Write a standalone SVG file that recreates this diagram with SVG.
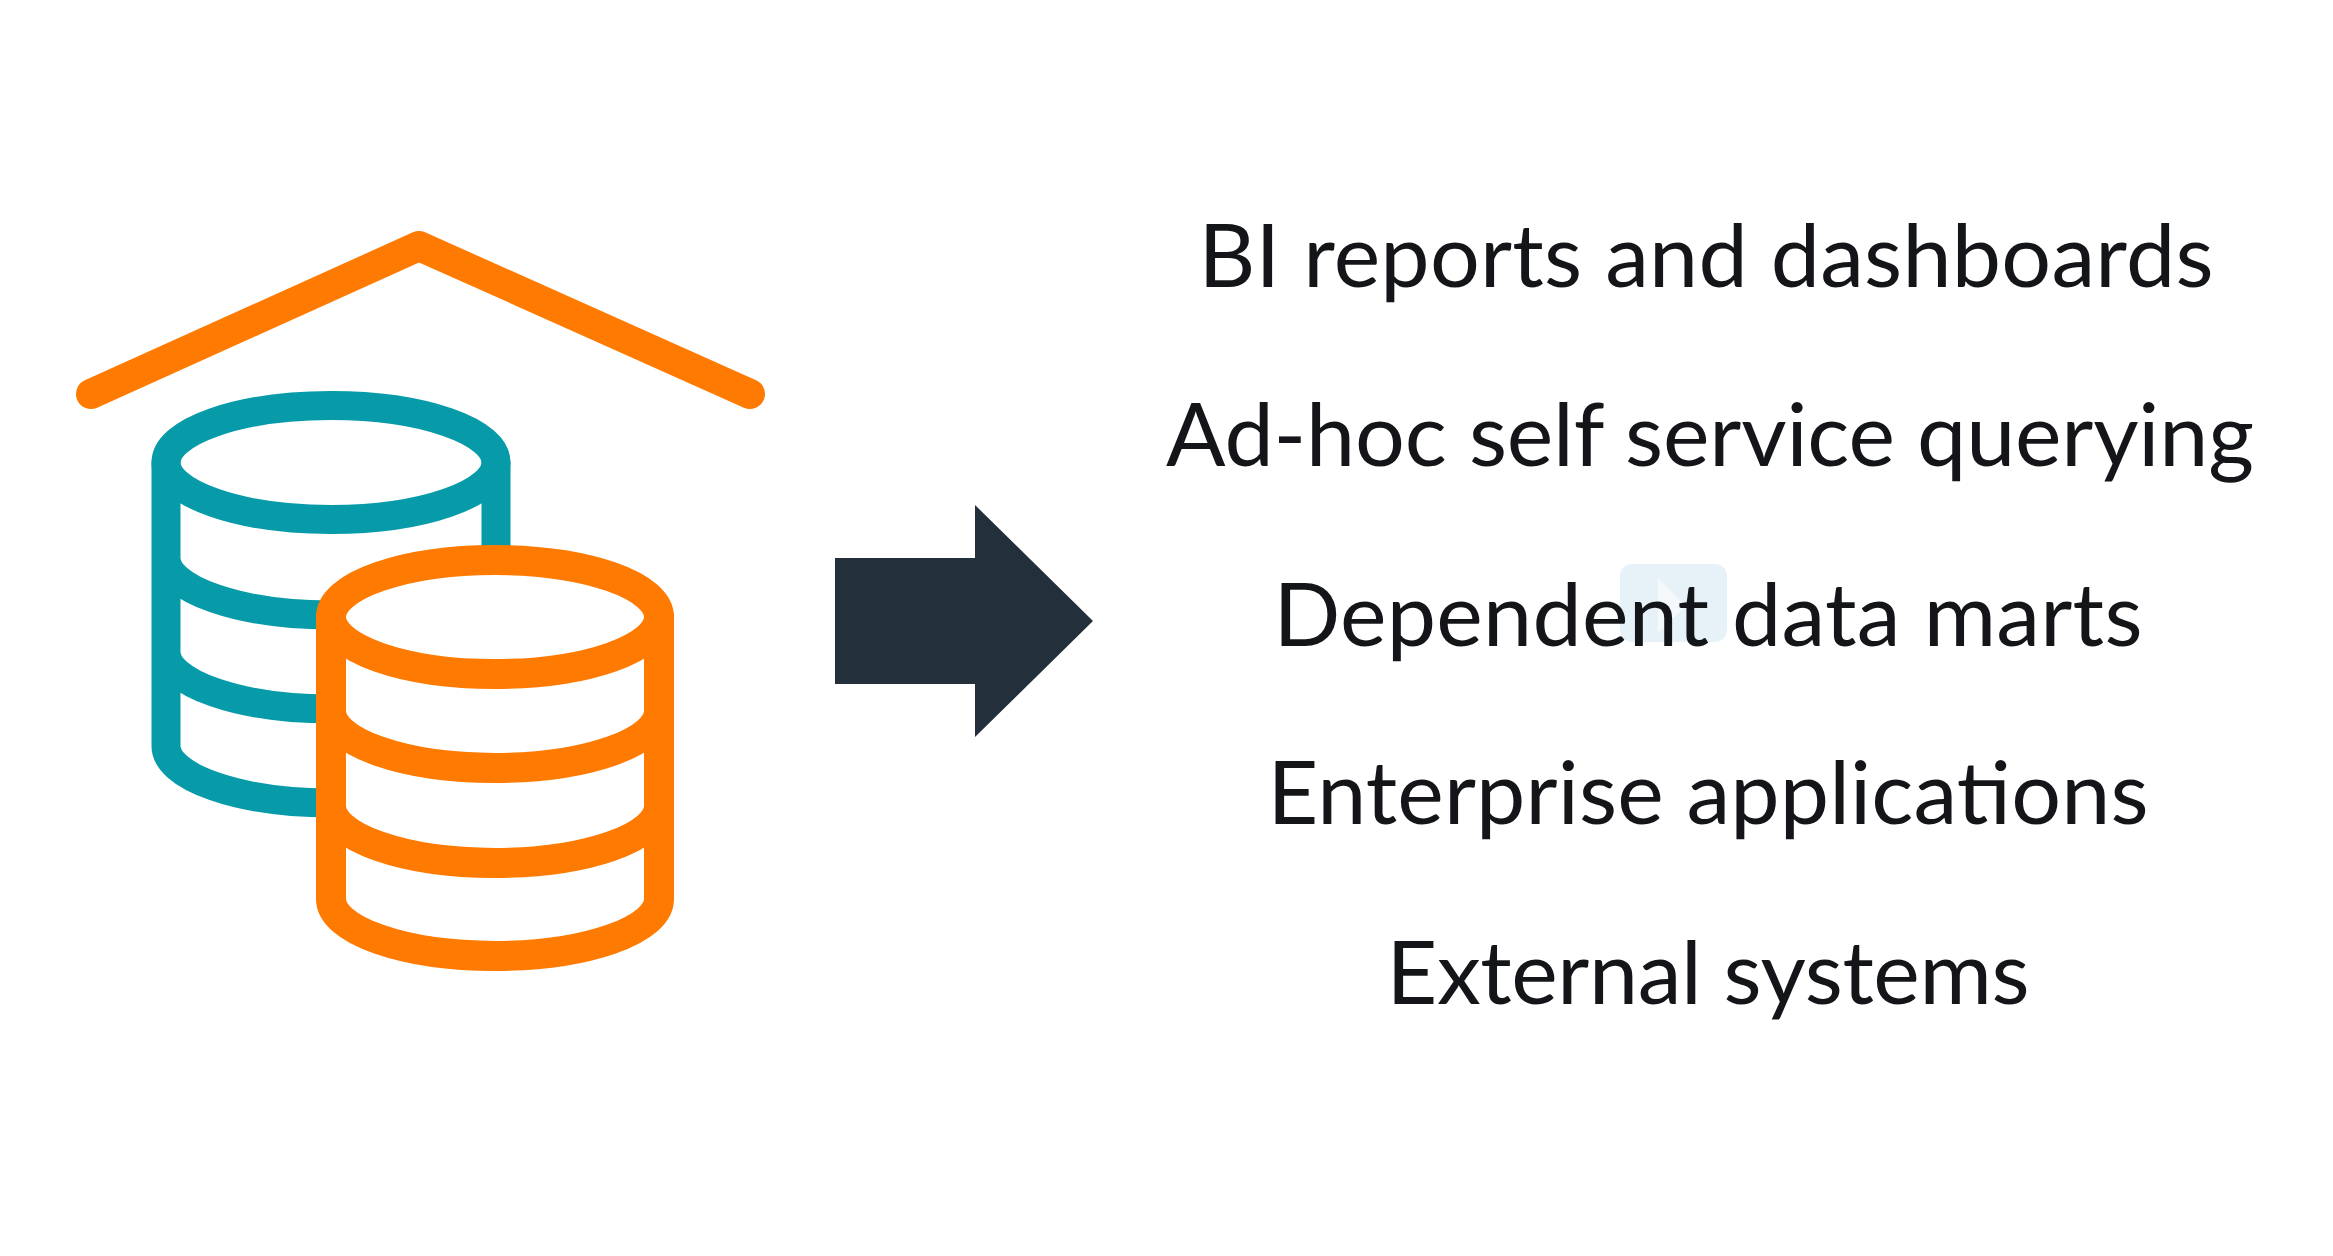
<svg xmlns="http://www.w3.org/2000/svg" width="2333" height="1256" viewBox="0 0 2333 1256">
<style>
.t{font-family:Lato,"Liberation Sans",sans-serif;font-size:88px;fill:#131518;text-anchor:middle}
.r{fill:none;stroke:#ff7a00;stroke-width:30;stroke-linecap:round;stroke-linejoin:round}
.o{fill:none;stroke:#ff7a00;stroke-width:30;stroke-linecap:round;stroke-linejoin:round}
.b{fill:none;stroke:#079aa9;stroke-width:29;stroke-linecap:round}
</style>
<rect width="2333" height="1256" fill="#fff"/>
<g id="roof"><path class="r" d="M91 394L419 246L750 394"/></g>
<g id="db-teal">
<ellipse class="b" cx="331" cy="462.5" rx="165" ry="57"/>
<path class="b" d="M166 463V746A165 57 0 0 0 331 803M496 463V570M166 558A165 57 0 0 0 331 615M166 652A165 57 0 0 0 331 709"/>
</g>
<g id="db-orange">
<path fill="#fff" d="M331 617A164 57 0 0 1 659 617V899A164 57 0 0 1 331 899Z"/>
<ellipse class="o" cx="495" cy="617" rx="164" ry="57"/>
<path class="o" d="M331 617V899A164 57 0 0 0 659 899V617M331 711A164 57 0 0 0 659 711M331 806A164 57 0 0 0 659 806"/>
</g>
<g id="arrow"><path fill="#232f3a" d="M835 558H975V505L1093 621L975 737V684H835Z"/></g>
<g id="play">
<rect x="1620" y="564" width="107" height="78" rx="12" fill="#e6f1f8"/>
<path fill="#fff" opacity=".6" d="M1658 578L1686 606L1658 633Z"/>
</g>
<g id="labels">
<text class="t" x="1706" y="287" textLength="1015">BI reports and dashboards</text>
<text class="t" x="1710" y="466" textLength="1088">Ad-hoc self service querying</text>
<text class="t" x="1708" y="646" textLength="869">Dependent data marts</text>
<text class="t" x="1708" y="824" textLength="881">Enterprise applications</text>
<text class="t" x="1708" y="1004" textLength="643">External systems</text>
</g>
</svg>
